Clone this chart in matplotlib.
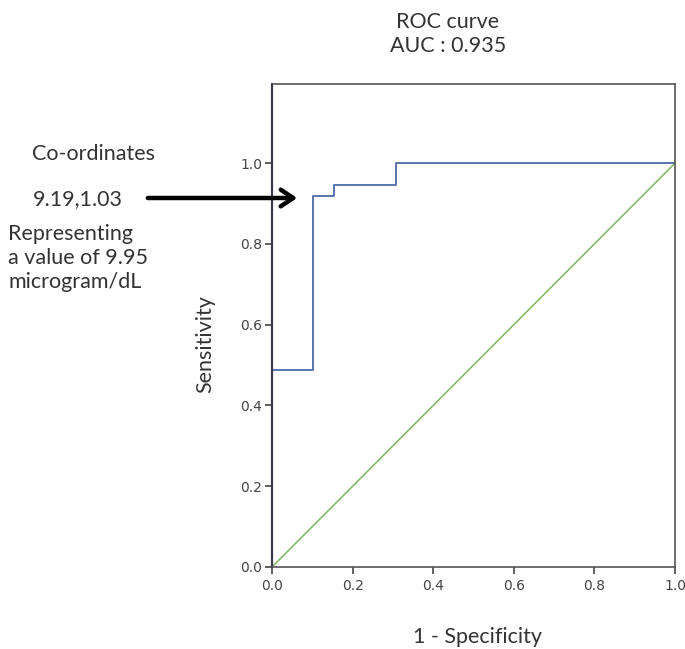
import matplotlib
matplotlib.use("Agg")
import matplotlib.pyplot as plt

# ROC step curve (1 - specificity, sensitivity)
fpr = [0.0, 0.0, 0.101, 0.101, 0.154, 0.154, 0.308, 0.308, 1.0]
tpr = [0.0, 0.488, 0.488, 0.919, 0.919, 0.947, 0.947, 1.0, 1.0]
ref_x = [0.0, 1.0]
ref_y = [0.0, 1.0]
ticks = [0.0, 0.2, 0.4, 0.6, 0.8, 1.0]
tick_labels = ["0.0", "0.2", "0.4", "0.6", "0.8", "1.0"]

txt = "#333333"
fig = plt.figure(figsize=(6.85, 6.49), dpi=100)
ax = fig.add_axes([272/685, 1-567/649, 403/685, 483/649])

ax.plot(ref_x, ref_y, color="#86b96a", lw=1.2)
ax.plot(fpr, tpr, color="#5a74ad", lw=1.4)
ax.set_xlim(0, 1.0)
ax.set_ylim(0, 1.196)
ax.set_xticks(ticks)
ax.set_xticklabels(tick_labels)
ax.set_yticks(ticks)
ax.set_yticklabels(tick_labels)
ax.tick_params(direction="out", length=5, width=1.2, labelsize=10,
               labelcolor="#444444", color="#444444")
ax.tick_params(axis="x", pad=4)
ax.tick_params(axis="y", pad=2)
for s in ax.spines.values():
    s.set_color("#555555")
    s.set_linewidth(1.2)
ax.spines["left"].set_color("#3a3a4a")
ax.spines["left"].set_linewidth(1.6)

font = "Lato"
fs = 15.5
fig.text(205/685, 1-344/649, "Sensitivity", ha="center", va="center", rotation=90,
         fontsize=fs, family=font, color=txt)
fig.text(448/685, 1-22/649, "ROC curve", ha="center", va="center", fontsize=fs, family=font, color=txt)
fig.text(448/685, 1-46/649, "AUC : 0.935", ha="center", va="center", fontsize=fs, family=font, color=txt)
fig.text(478/685, 1-637/649, "1 - Specificity", ha="center", va="center", fontsize=fs, family=font, color=txt)

fig.text(32/685, 1-154/649, "Co-ordinates", ha="left", va="center", fontsize=fs, family=font, color=txt)
fig.text(33/685, 1-199/649, "9.19,1.03", ha="left", va="center", fontsize=fs, family=font, color=txt)
fig.text(8/685, 1-258/649, "Representing\na value of 9.95\nmicrogram/dL", ha="left", va="center",
         fontsize=fs, family=font, color=txt, linespacing=1.25)

fig.patches.append(matplotlib.patches.FancyArrowPatch(
    (145/685, 1-198/649), (300/685, 1-198/649), transform=fig.transFigure,
    arrowstyle="->,head_length=9,head_width=6", lw=3.2, color="black", mutation_scale=1))

fig.savefig("out.png", dpi=100)
